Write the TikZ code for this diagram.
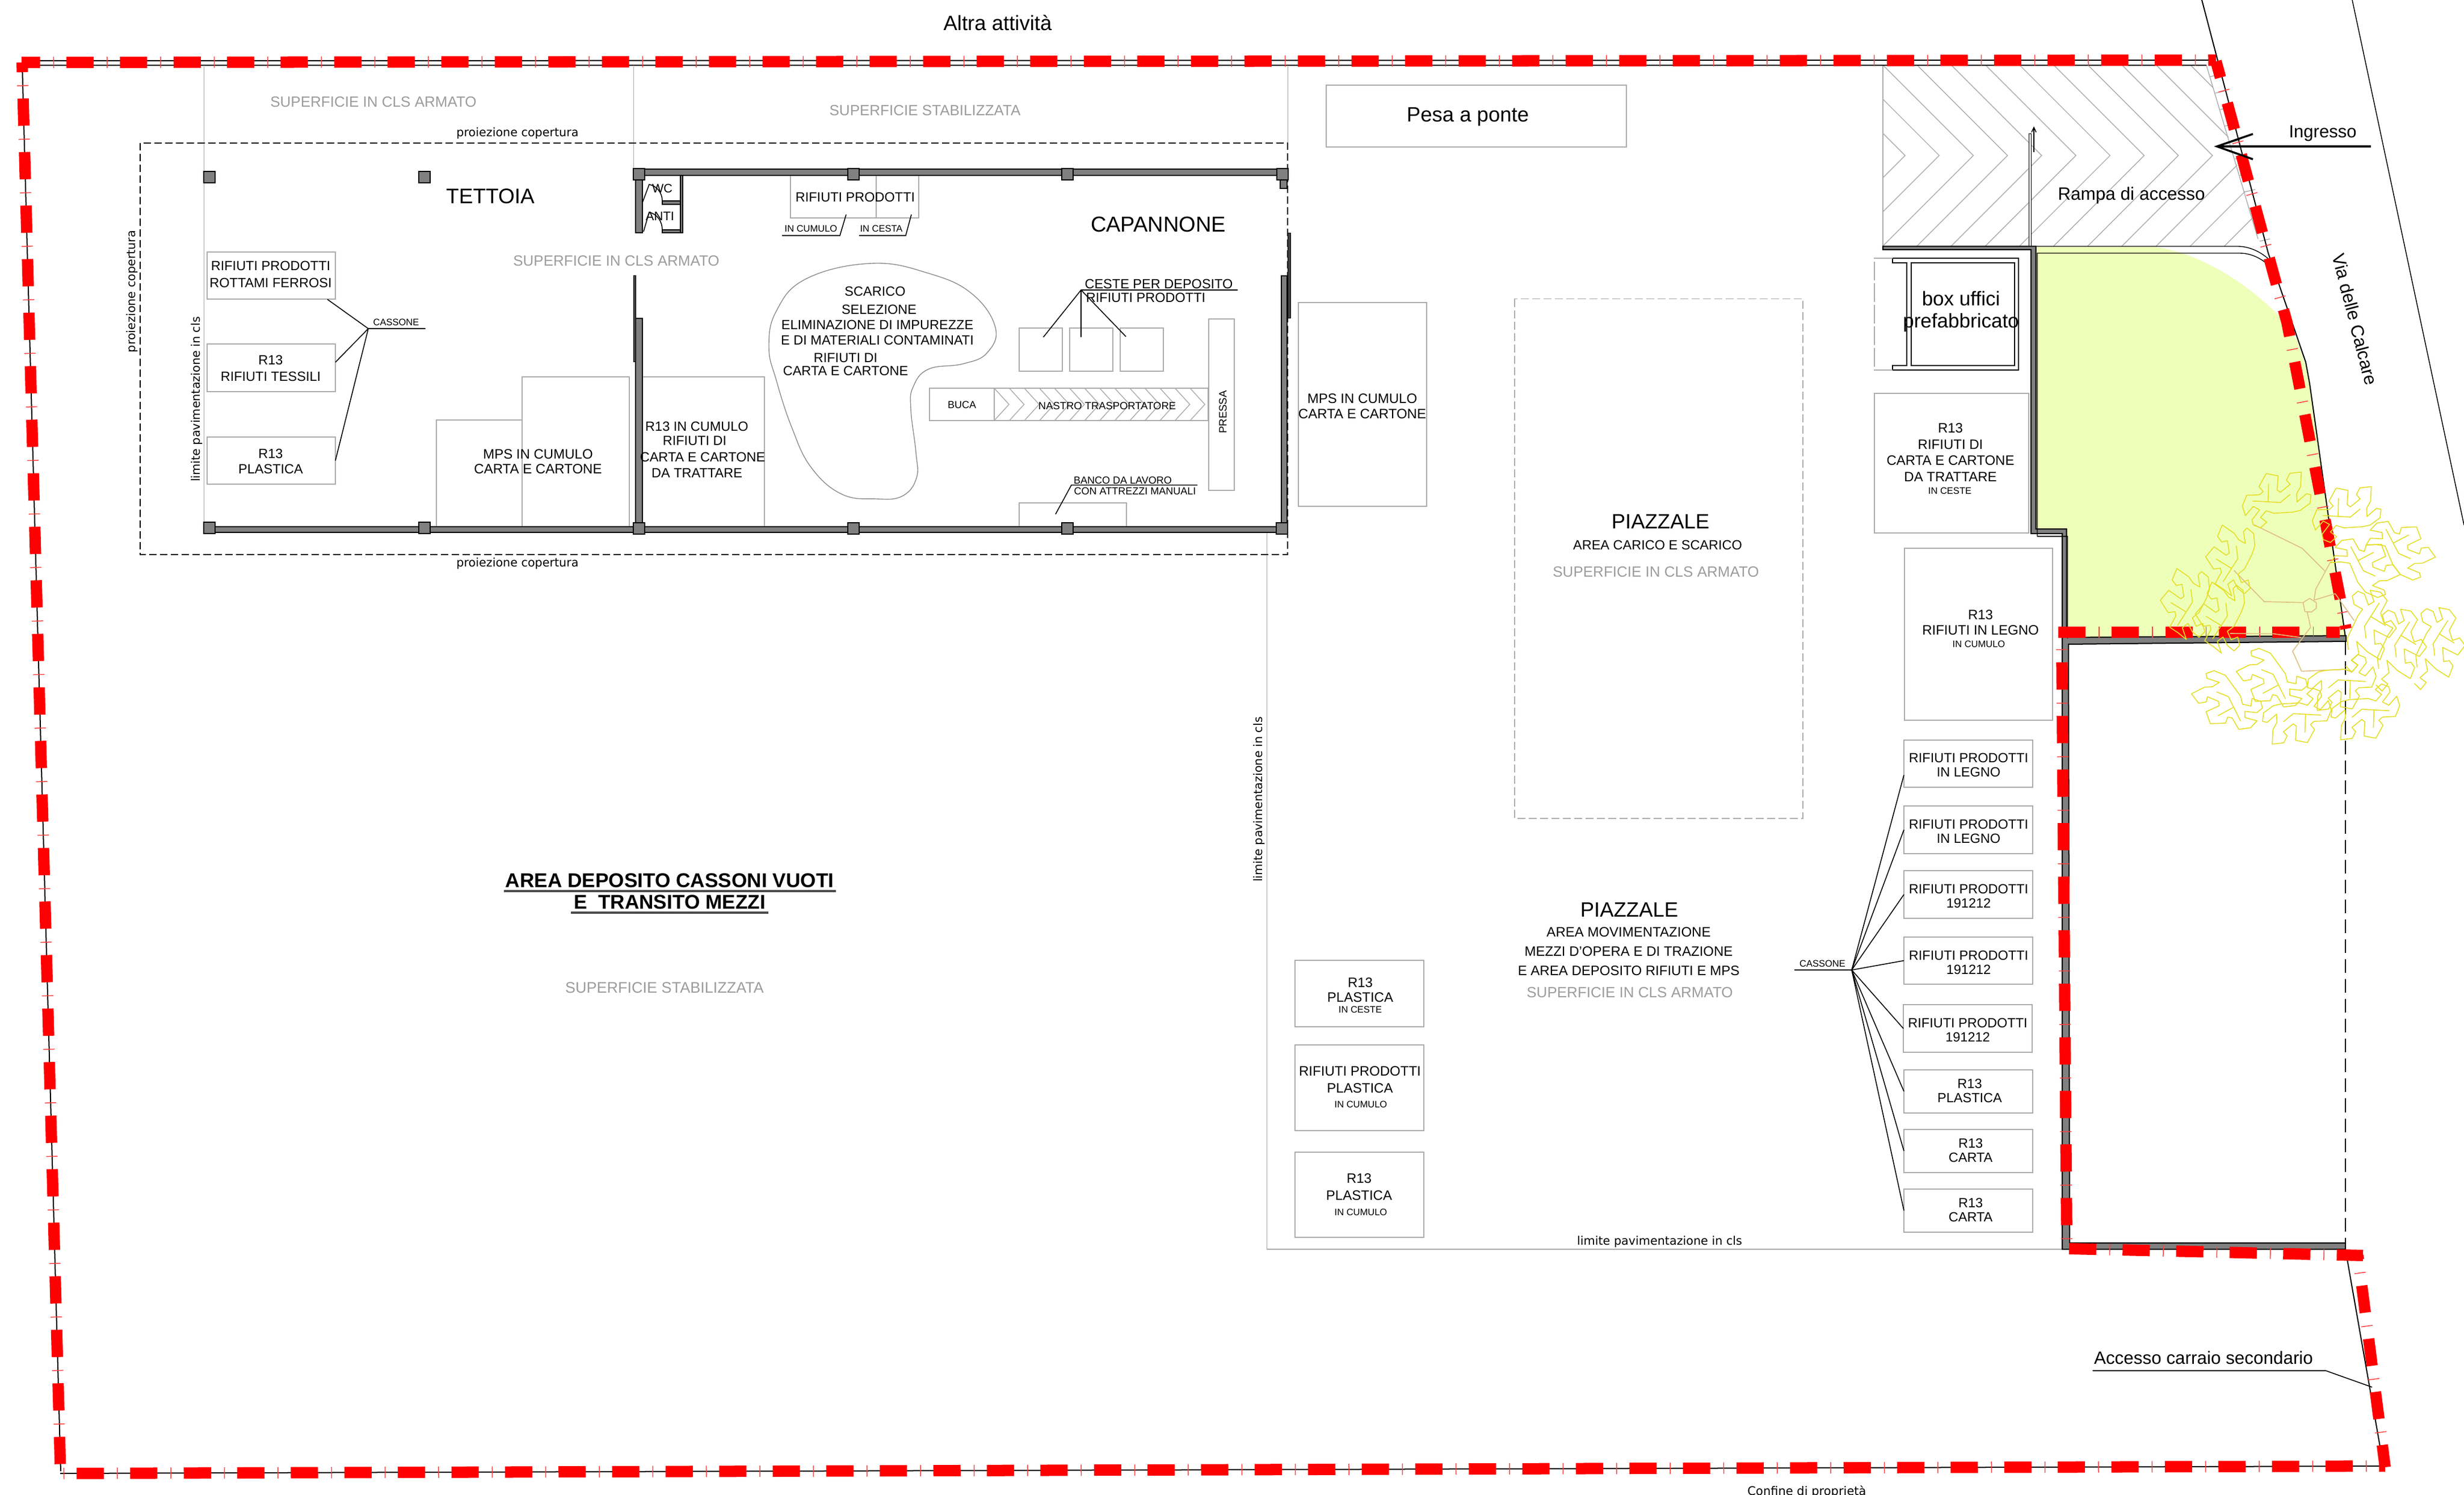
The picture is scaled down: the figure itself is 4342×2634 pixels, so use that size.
\documentclass[tikz,border=0pt]{standalone}
\usepackage{fontspec}
\setmainfont{Liberation Sans}
\newfontfamily\djfont{DejaVu Sans}
\definecolor{greytext}{HTML}{9C9C9C}
\definecolor{binline}{HTML}{ABABAB}
\definecolor{wallgrey}{HTML}{808080}
\definecolor{lawn}{HTML}{EEFFB9}
\definecolor{leafy}{HTML}{E4DF2A}
\definecolor{trunk}{HTML}{DDBE80}
\newcommand{\fz}[2]{\pgfmathsetmacro\fzA{#1*0.28453}\pgfmathsetmacro\fzB{#2*0.28453}\fontsize{\fzA pt}{\fzB pt}\selectfont}
\tikzset{
 txt/.style={inner sep=0pt,outer sep=0pt,align=center},
 binbox/.style={draw=binline,line width=0.02cm,inner sep=0pt,outer sep=0pt},
 thinline/.style={draw=binline,line width=0.017cm},
 blackline/.style={draw=black,line width=0.02cm},
 lead/.style={draw=black,line width=0.016cm},
 wall/.style={fill=wallgrey,draw=black,line width=0.02cm},
 darkstrip/.style={fill=black!75,draw=black,line width=0.01cm},
 proj/.style={draw=black,line width=0.02cm,dash pattern=on 0.13cm off 0.06cm},
 greydash/.style={draw=binline,line width=0.017cm,dash pattern=on 0.14cm off 0.06cm},
 hatchline/.style={draw=binline,line width=0.014cm},
 redthick/.style={draw=red,line width=0.2cm,dash pattern=on 0.48cm off 0.463cm},
 redtick/.style={draw=red!75,line width=0.2cm,dash pattern=on 0.015cm off 0.928cm},
 leaf/.style={draw=leafy,line width=0.016cm,line join=round},
 trunkline/.style={draw=trunk,line width=0.016cm,line join=round},
}
\newcommand{\lbl}[7][]{\node[txt,font=\fz{#5}{#6},#1] (#2) at (#3,#4) {#7};}
\newcommand{\binrect}[6][]{\pgfmathsetmacro\bxw{(#5-#3)*0.01}\pgfmathsetmacro\bxh{(#6-#4)*0.01}\pgfmathsetmacro\bxx{(#3+#5)/2}\pgfmathsetmacro\bxy{(#4+#6)/2}\node[binbox,minimum width=\bxw cm,minimum height=\bxh cm,#1] (#2) at (\bxx,\bxy) {};}
\newcommand{\redrun}[2]{\pgfmathsetmacro\phA{(#1)*0.01}\pgfmathsetmacro\phB{(#1+23.3)*0.01}\draw[redthick,dash phase=\phA cm] #2;\draw[redtick,dash phase=\phB cm] #2;}
\newcommand{\leafT}{\draw[leaf] (640,43)--(703,55)--(698,130)--(715,142)--(767,100)--(747,78)--(765,42)--(826,35)--(822,112)--(801,150)--(803,193)--(853,150)--(877,155)--(872,200)--(820,238)--(780,247)--(680,253)--(640,240)--(610,275)--(643,300)--(610,330)--(572,315)--(565,288)--(605,235)--(572,217)--(530,265)--(514,215)--(537,158)--(605,155)--(624,138)--(602,112)--cycle;\draw[leaf] (653,97)--(650,195);\draw[leaf] (568,188)--(715,196)--(767,153);}
\newcommand{\leafL}{\draw[leaf] (408,315)--(470,358)--(495,393)--(530,413)--(520,350)--(538,331)--(574,360)--(580,425)--(565,470)--(525,548)--(490,575)--(510,620)--(545,605)--(555,650)--(525,678)--(490,650)--(467,605)--(437,628)--(458,690)--(415,655)--(370,625)--(403,565)--(398,543)--(362,548)--(320,483)--(365,430)--(428,475)--(445,463)--(435,398)--(405,405)--(383,375)--cycle;\draw[leaf] (482,425)--(490,493)--(412,615);\draw[leaf] (376,495)--(458,545);}
\newcommand{\leafR}{\draw[leaf] (1285,296)--(1318,355)--(1345,363)--(1355,328)--(1435,325)--(1458,388)--(1387,422)--(1390,445)--(1450,468)--(1460,437)--(1497,433)--(1535,485)--(1465,517)--(1425,518)--(1388,543)--(1450,567)--(1457,590)--(1415,606)--(1350,577)--(1310,525)--(1268,425)--(1218,418)--(1168,422)--(1190,385)--(1255,388)--(1253,355)--(1190,342)--(1225,305)--cycle;\draw[leaf] (1273,337)--(1340,465)--(1403,493);\draw[leaf] (1313,410)--(1395,367);}
\newcommand{\leafM}{\draw[leaf] (1095,690)--(1125,665)--(1160,680)--(1180,738)--(1210,720)--(1190,660)--(1245,670)--(1280,715)--(1245,780)--(1262,833)--(1300,820)--(1328,860)--(1290,910)--(1210,870)--(1215,945)--(1245,940)--(1265,968)--(1242,1027)--(1175,985)--(1118,930)--(1130,995)--(1090,1030)--(1123,1055)--(1093,1093)--(1060,1060);\draw[leaf] (1075,975)--(1068,915)--(1125,795)--(1150,760)--(1105,735)--(1095,690);\draw[leaf] (1238,727)--(1160,850)--(1168,915);\draw[leaf] (1190,797)--(1272,847);}
\newcommand{\leafB}{\draw[leaf] (322,1100)--(365,1085)--(425,1110)--(465,1165)--(505,1220)--(515,1262)--(560,1272)--(565,1232)--(612,1248)--(620,1283)--(590,1307)--(527,1300)--(528,1333)--(592,1350)--(557,1387)--(495,1395)--(460,1335)--(437,1330)--(425,1362)--(345,1365)--(322,1302)--(392,1270)--(388,1247)--(330,1223)--(323,1250)--(283,1257)--(245,1207)--(315,1172)--(355,1170)--(392,1147)--(327,1125)--cycle;\draw[leaf] (377,1197)--(440,1222)--(505,1352);\draw[leaf] (385,1323)--(470,1277);}
\begin{document}
\begin{tikzpicture}[x=0.01cm,y=-0.01cm]
\useasboundingbox (0,0) rectangle (4342,2634);
\fill[white] (0,0) rectangle (4342,2634);
% lawn
\fill[lawn] (3587,435) -- (3797,435) .. controls (3870,445) and (3950,490) .. (4020,560) -- (4048,600) -- (4063,644) -- (4070,676) -- (4134,1122) -- (3641,1124) -- (3641,940) -- (3587,940) -- cycle;
% ramp hatch
\begin{scope}
\clip (3318,115) -- (3888,115) -- (3986,434) -- (3318,434) -- cycle;
\foreach \k in {0,...,12}{\pgfmathsetmacro\ax{3357+60.2*\k}\draw[hatchline] (\ax-159,115) -- (\ax,274) -- (\ax-160,434);}
\end{scope}
\draw[hatchline] (3318,115) -- (3318,434);
\draw[hatchline] (3888,115) -- (3979,421);
\foreach \k in {0,...,10}{\pgfmathsetmacro\rx{3895+8.7*\k}\pgfmathsetmacro\ry{135+29*\k}\draw[hatchline] (\rx,\ry) -- (\rx+18,\ry-4);}
% property lines
\draw[black,line width=0.02cm] (38,107) -- (3903,106);
\draw[black,line width=0.02cm] (38,115) -- (3888,115);
\draw[blackline] (39,110) -- (107,2592);
\draw[blackline] (106,2596) -- (4200,2583);
\draw[blackline] (3880,0) -- (3997,446) -- (4063,638) -- (4070,676) -- (4134,1130);
\draw[blackline] (4133,2201) -- (4200,2583);
\draw[black,line width=0.015cm] (4145,0) -- (4342,925);
% surface limits
\draw[thinline] (359.5,115) -- (359.5,921);
\draw[thinline] (1116.5,115) -- (1116.5,297);
\draw[thinline] (2269.5,115) -- (2269.5,252);
\draw[thinline] (2232.5,938) -- (2232.5,2201) -- (3634,2201);
% canopy projection
\draw[proj] (247,252) rectangle (2269,977);
% bins inside the building
\binrect{rott}{364.5}{444.5}{591}{527.5}
\binrect{tess}{364.5}{606.5}{591}{690}
\binrect{plasA}{364.5}{770}{591}{853}
\draw[thinline] (920,928) -- (920,740) -- (769,740) -- (769,928);
\draw[thinline] (920,740) -- (920,664) -- (1109,664) -- (1109,928);
\draw[thinline] (1132,664) -- (1347,664) -- (1347,928);
\draw[thinline] (1393,309) -- (1393,384) -- (1619,384) -- (1619,309);
\draw[thinline] (1544,309) -- (1544,384);
\binrect{cestaA}{1796}{578}{1872}{654}
\binrect{cestaB}{1885}{578}{1961}{654}
\binrect{cestaC}{1974}{578}{2050}{654}
\binrect{buca}{1638}{684}{1752}{741}
\binrect{nastro}{1752}{684}{2129}{741}
\foreach \k in {0,...,13}{\pgfmathsetmacro\cx{1752+26.55*\k}\draw[hatchline] (\cx,684) -- (\cx+26,712.5) -- (\cx,741);}
\binrect{pressa}{2130}{562}{2175}{864}
\draw[thinline] (1796,928) -- (1796,886) -- (1985,886) -- (1985,928);
% sorting area
\draw[draw=black!45,line width=0.014cm] plot[smooth cycle,tension=0.7] coordinates {(1536,464) (1636,481.5) (1712,517) (1754,577) (1739,622) (1697,641) (1636,650.5) (1609,682) (1605,721) (1614,797) (1615,842) (1590,874) (1544,879) (1483,870.5) (1429,823) (1395,752.5) (1368,670) (1355,612) (1368,548) (1421,491)};
% building walls
\filldraw[wall] (1135,298) rectangle (2250,309);
\filldraw[wall] (370,928) rectangle (2260,938);
\filldraw[wall] (1120,316) rectangle (1132,410);
\filldraw[wall] (1120,561) rectangle (1132,921);
\filldraw[wall] (2258,486) rectangle (2268,921);
\filldraw[darkstrip] (1116,486) rectangle (1120,638);
\filldraw[darkstrip] (2269,411) rectangle (2274,561);
\filldraw[wall] (2256,316) rectangle (2268,332);
\filldraw[wall] (1199,309) rectangle (1203,410);
\filldraw[wall] (1167,354) rectangle (1199,360);
\filldraw[wall] (1167,405) rectangle (1199,410);
\draw[lead] (1132,357) -- (1144,325) .. controls (1158,328) and (1167,340) .. (1167,354);
\draw[lead] (1134,408) -- (1144,374) .. controls (1158,377) and (1167,390) .. (1167,405);
\foreach \cx/\cy in {359/302,738/302,1116/297,1494/297,1871/297,2250/297,359/920,738/920,1116/921,1494/921,1871/921,2249/921}{\filldraw[wall] (\cx,\cy) rectangle (\cx+20,\cy+20);}
% yard bins
\binrect{pesa}{2337}{150.5}{2866}{259}
\binrect{mpsB}{2288}{533}{2514}{892}
\draw[greydash] (2669,526.5) rectangle (3177,1442);
\binrect{r13c}{3303}{693}{3575}{939}
\binrect{legno}{3356}{966}{3617}{1269}
\binrect{ba}{3355}{1304}{3582}{1387}
\binrect{bb}{3355}{1420}{3582}{1504}
\binrect{bc}{3355}{1534}{3582}{1618}
\binrect{bd}{3355}{1651}{3582}{1734}
\binrect{be}{3354}{1770}{3581}{1854}
\binrect{bf}{3355}{1885}{3582}{1960.5}
\binrect{bg}{3355}{1990}{3582}{2065.5}
\binrect{bh}{3355}{2095}{3582}{2170.5}
\binrect{pa}{2281.6}{1691.5}{2508.7}{1809.4}
\binrect{pb}{2281.6}{1841}{2508.7}{1991.5}
\binrect{pc}{2281.6}{2029.7}{2508.7}{2180}
% office box
\draw[black,line width=0.022cm] (3335,463) -- (3335,455) -- (3557,455) -- (3557,652) -- (3335,652) -- (3335,644) -- (3360,644) -- (3360,463) -- cycle;
\draw[black,line width=0.022cm] (3368,463) rectangle (3550,644);
\draw[draw=binline,line width=0.02cm,dash pattern=on 0.33cm off 0.05cm] (3335,455) -- (3303,455) -- (3303,652) -- (3335,652);
% yard walls and kerb
\filldraw[wall] (3318,434) -- (3587.5,434) -- (3587.5,932) -- (3641.5,932) -- (3641.5,1123) -- (4134,1120) -- (4134,1130) -- (3645,1135) -- (3647,2190) -- (4133,2190) -- (4133,2201) -- (3634,2201) -- (3634,940) -- (3579,940) -- (3579,440) -- (3318,440) -- cycle;
\draw[black,line width=0.014cm] (3587,434) -- (3943,434) .. controls (3965,434) and (3985,445) .. (3997,456);
\draw[black,line width=0.014cm] (3590,945) -- (3590,446) -- (3946,446) .. controls (3980,446) and (4005,470) .. (4019,494);
\draw[black,line width=0.014cm] (3590,945) -- (3643.5,945) -- (3643.5,1125);
\draw[black,line width=0.02cm,dash pattern=on 0.24cm off 0.11cm] (4133,1130) -- (4133,2190);
% ramp markers
\draw[fill=white,draw=black,line width=0.01cm] (3575,236) rectangle (3579,434);
\draw[black,line width=0.015cm] (3584,268) -- (3584,224.5);
\draw[black,line width=0.015cm] (3580,233) -- (3584,224.5) -- (3588,233);
% property boundary in red
\redrun{15.3}{(38,110) -- (3905,106)}
\redrun{18.3}{(3905,108) -- (4005,478) -- (4030,568) -- (4048,660) -- (4134,1108)}
\redrun{0}{(3627,1114) -- (4123,1114)}
\redrun{48.3}{(3633,1121) -- (3642,2185)}
\redrun{0}{(3646,2200) -- (4164,2212)}
\redrun{40.8}{(4155,2212) -- (4203,2585)}
\redrun{66.3}{(107,2596) -- (4203,2583)}
\redrun{30.8}{(39,110) -- (106.5,2590)}
% trees
\begin{scope}[shift={(3780,820)},scale=0.33333]
\draw[trunkline] (575,313) -- (830,438) -- (950,558);
\draw[trunkline] (980,510) -- (902,655) -- (893,712);
\draw[trunkline] (470,555) -- (630,720) -- (835,725);
\draw[trunkline] (835,725) -- (870,703) -- (905,725) -- (905,755) -- (880,775) -- (845,773) -- cycle;
\draw[trunkline] (893,712) -- (1005,678) -- (1105,820);
\draw[trunkline] (857,775) -- (875,855) -- (780,982) -- (827,1088) -- (1055,1078) -- (1095,1093);
\draw[trunkline] (450,888) -- (680,890) -- (825,910);
\leafT
\begin{scope}[shift={(370,77)}]\leafT\end{scope}
\begin{scope}[shift={(1498,1508)},xscale=-1,yscale=-1]\leafT\end{scope}
\begin{scope}[shift={(1860,1485)},xscale=-1,yscale=-1]\leafT\end{scope}
\begin{scope}[shift={(1735,1330)},xscale=-1,yscale=-1]\leafT\end{scope}
\leafL
\begin{scope}[shift={(-240,230)}]\leafL\end{scope}
\begin{scope}[shift={(-55,302)}]\leafL\end{scope}
\leafR
\begin{scope}[shift={(-186,92)}]\leafR\end{scope}
\leafM
\begin{scope}[shift={(160,100)}]\leafM\end{scope}
\begin{scope}[shift={(363,92)}]\leafM\end{scope}
\leafB
\begin{scope}[shift={(237,-118)}]\leafB\end{scope}
\end{scope}
% leaders
\coordinate (hubA) at (649,579);
\coordinate (hubAend) at (749.5,579);
\coordinate (rottEnd) at (577,527.5);
\draw[lead] (hubAend) -- (hubA) -- (rottEnd);
\draw[lead] (hubA) -- ([yshift=0.1cm]tess.east);
\draw[lead] (hubA) -- (plasA.east);
\coordinate (hubB) at (3263,1709);
\coordinate (hubBend) at (3162,1709);
\draw[lead] (hubBend) -- (hubB);
\draw[lead] (hubB) -- ([yshift=-0.2cm]ba.west);
\foreach \b in {bb,bc,bd,be,bf,bg,bh}{\draw[lead] (hubB) -- (\b.west);}
\coordinate (cesteHub) at (1905,511);
\coordinate (cesteEnd) at (2181,511);
\coordinate (cesteA) at (1838.5,594);
\coordinate (cesteB) at (1905,594);
\coordinate (cesteC) at (1984,593);
\draw[lead] (cesteEnd) -- (cesteHub) -- (cesteA);
\draw[lead] (cesteHub) -- (cesteB);
\draw[lead] (cesteHub) -- (cesteC);
\coordinate (bancoA) at (2110,854.6);
\coordinate (bancoB) at (1888,854.6);
\coordinate (bancoC) at (1860,906);
\draw[lead] (bancoA) -- (bancoB) -- (bancoC);
\coordinate (cumA) at (1378,415);
\coordinate (cumB) at (1480,415);
\coordinate (cumC) at (1491,378);
\draw[lead] (cumA) -- (cumB) -- (cumC);
\coordinate (cesA) at (1514,415);
\coordinate (cesB) at (1596,415);
\coordinate (cesC) at (1606,378);
\draw[lead] (cesA) -- (cesB) -- (cesC);
\coordinate (accA) at (3687.5,2415);
\coordinate (accB) at (4098.5,2415);
\coordinate (accC) at (4180,2444);
\draw[lead] (accA) -- (accB) -- (accC);
% entrance arrow
\coordinate (ingA) at (4178,258);
\coordinate (ingB) at (3906.5,258);
\coordinate (ingC) at (3970,236);
\coordinate (ingD) at (3970,280.6);
\draw[black,line width=0.035cm] (ingA) -- (ingB);
\draw[black,line width=0.035cm] (ingC) -- (ingB) -- (ingD);
% main title underlines
\draw[black!70,line width=0.035cm] (888,1570) -- (1473,1570);
\draw[black!70,line width=0.035cm] (1006,1608) -- (1354,1608);
% TEXT
\lbl{altra}{1758}{40}{36.5}{42}{Altra attività}
\lbl[text=greytext]{supA}{658}{180}{26}{30}{SUPERFICIE IN CLS ARMATO}
\lbl[text=greytext]{supB}{1630}{195}{26}{30}{SUPERFICIE STABILIZZATA}
\lbl[text=greytext]{supC}{1086}{460}{26}{30}{SUPERFICIE IN CLS ARMATO}
\lbl[text=greytext]{supD}{2918}{1008}{26}{30}{SUPERFICIE IN CLS ARMATO}
\lbl[text=greytext]{supE}{2872}{1748.5}{26}{30}{SUPERFICIE IN CLS ARMATO}
\lbl[text=greytext]{supF}{1171}{1740}{27}{30}{SUPERFICIE STABILIZZATA}
\lbl{projT}{912}{235}{20.7}{24}{\djfont proiezione copertura}
\lbl{projB}{912}{993}{20.7}{24}{\djfont proiezione copertura}
\lbl[rotate=90]{projL}{232.5}{513.5}{20.7}{24}{\djfont proiezione copertura}
\lbl[rotate=90]{limA}{347}{703.5}{20.7}{24}{\djfont limite pavimentazione in cls}
\lbl[rotate=90]{limB}{2219}{1408.6}{20.7}{24}{\djfont limite pavimentazione in cls}
\lbl{limC}{2924.5}{2188}{20.7}{24}{\djfont limite pavimentazione in cls}
\lbl{tett}{864}{346}{37}{42}{TETTOIA}
\lbl{cap}{2041}{395}{38}{42}{CAPANNONE}
\lbl{tRott}{477}{483}{23.5}{30}{RIFIUTI PRODOTTI\\ROTTAMI FERROSI}
\lbl{tTess}{477}{649}{23.5}{28.7}{R13\\RIFIUTI TESSILI}
\lbl{tPlasA}{477}{812.5}{23.5}{27}{R13\\PLASTICA}
\lbl{casA}{698}{568}{16.5}{20}{CASSONE}
\lbl{tMpsA}{948}{813}{24}{25.5}{MPS IN CUMULO\\CARTA E CARTONE}
\lbl{wc}{1167}{332}{21.6}{26}{WC}
\lbl{anti}{1163}{381}{22}{26}{ANTI}
\lbl{tProd}{1507}{347}{23.5}{28}{RIFIUTI PRODOTTI}
\lbl{inCum}{1429}{403}{16.5}{20}{IN CUMULO}
\lbl{inCes}{1553}{403}{16.5}{20}{IN CESTA}
\lbl{r1}{1228}{751}{23.5}{28}{R13 IN CUMULO}
\lbl{r2}{1224}{777}{23.5}{28}{RIFIUTI DI}
\lbl{r3}{1238}{805.5}{23.5}{28}{CARTA E CARTONE}
\lbl{r4}{1228}{833.5}{23.5}{28}{DA TRATTARE}
\lbl{s1}{1542}{513}{23.5}{28}{SCARICO}
\lbl{s2}{1549}{545}{23.5}{28}{SELEZIONE}
\lbl{s3}{1546}{585.5}{23.5}{27}{ELIMINAZIONE DI IMPUREZZE\\E DI MATERIALI CONTAMINATI}
\lbl{s4}{1490}{642.5}{23.5}{23}{RIFIUTI DI\\CARTA E CARTONE}
\lbl{ce1}{2042}{500}{23.5}{28}{CESTE PER DEPOSITO}
\lbl{ce2}{2019}{524}{23.5}{28}{RIFIUTI PRODOTTI}
\lbl{tBuca}{1695}{713}{18}{22}{BUCA}
\lbl{tNastro}{1951}{715.5}{18.4}{22}{NASTRO TRASPORTATORE}
\lbl[rotate=90]{tPressa}{2155}{726}{18.7}{22}{PRESSA}
\lbl{ban1}{1978.5}{846}{18}{22}{BANCO DA LAVORO}
\lbl{ban2}{2000}{865}{18}{22}{CON ATTREZZI MANUALI}
\lbl{tPesa}{2586.5}{206}{36.5}{42}{Pesa a ponte}
\lbl{tMpsB}{2400.5}{715.5}{24}{27}{MPS IN CUMULO\\CARTA E CARTONE}
\lbl{piaA}{2926}{919}{36.5}{42}{PIAZZALE}
\lbl{areaA}{2921}{960}{23.5}{28}{AREA CARICO E SCARICO}
\lbl{piaB}{2871}{1603}{36.5}{42}{PIAZZALE}
\lbl{areaB}{2870}{1676}{24}{34}{AREA MOVIMENTAZIONE\\MEZZI D'OPERA E DI TRAZIONE\\E AREA DEPOSITO RIFIUTI E MPS}
\lbl[font=\bfseries\fz{35.2}{38}]{dep}{1180}{1570.5}{35.2}{38}{AREA DEPOSITO CASSONI VUOTI\\E\ \ TRANSITO MEZZI}
\lbl{rampa}{3756}{344}{31.5}{36}{Rampa di accesso}
\lbl{ingr}{4093}{235}{31}{36}{Ingresso}
\lbl[rotate=-75.5]{via}{4150}{562.5}{31.5}{36}{Via delle Calcare}
\lbl{uff}{3455.5}{548.5}{35}{39}{box uffici\\prefabbricato}
\lbl{tR13c}{3437}{797}{24}{28.7}{R13\\RIFIUTI DI\\CARTA E CARTONE\\DA TRATTARE}
\lbl{tR13cs}{3436}{865}{16.5}{20}{IN CESTE}
\lbl{tLeg}{3490}{1096.5}{24}{27}{R13\\RIFIUTI IN LEGNO}
\lbl{tLegs}{3487}{1135}{16.5}{20}{IN CUMULO}
\lbl{tba}{3469}{1348}{23.5}{25.6}{RIFIUTI PRODOTTI\\IN LEGNO}
\lbl{tbb}{3469}{1465}{23.5}{25.6}{RIFIUTI PRODOTTI\\IN LEGNO}
\lbl{tbc}{3469}{1579}{23.5}{25.6}{RIFIUTI PRODOTTI\\191212}
\lbl{tbd}{3469}{1696}{23.5}{25.6}{RIFIUTI PRODOTTI\\191212}
\lbl{tbe}{3467.5}{1815}{23.5}{25.6}{RIFIUTI PRODOTTI\\191212}
\lbl{tbf}{3471}{1922}{23.5}{25.6}{R13\\PLASTICA}
\lbl{tbg}{3472.6}{2027}{23.5}{25.6}{R13\\CARTA}
\lbl{tbh}{3472.6}{2132}{23.5}{25.6}{R13\\CARTA}
\lbl{casB}{3211.5}{1697.5}{16.5}{20}{CASSONE}
\lbl{tpa}{2397}{1744}{24}{26}{R13\\PLASTICA}
\lbl{tpas}{2397}{1779}{16.5}{20}{IN CESTE}
\lbl{tpb}{2396.5}{1902}{24}{30}{RIFIUTI PRODOTTI\\PLASTICA}
\lbl{tpbs}{2398}{1946}{16.5}{20}{IN CUMULO}
\lbl{tpc}{2395}{2091.3}{24}{29.4}{R13\\PLASTICA}
\lbl{tpcs}{2398}{2135.5}{16.5}{20}{IN CUMULO}
\lbl{acc}{3883}{2392}{31.4}{36}{Accesso carraio secondario}
\lbl{conf}{3184}{2628}{21}{24}{\djfont Confine di proprietà}
\end{tikzpicture}
\end{document}
